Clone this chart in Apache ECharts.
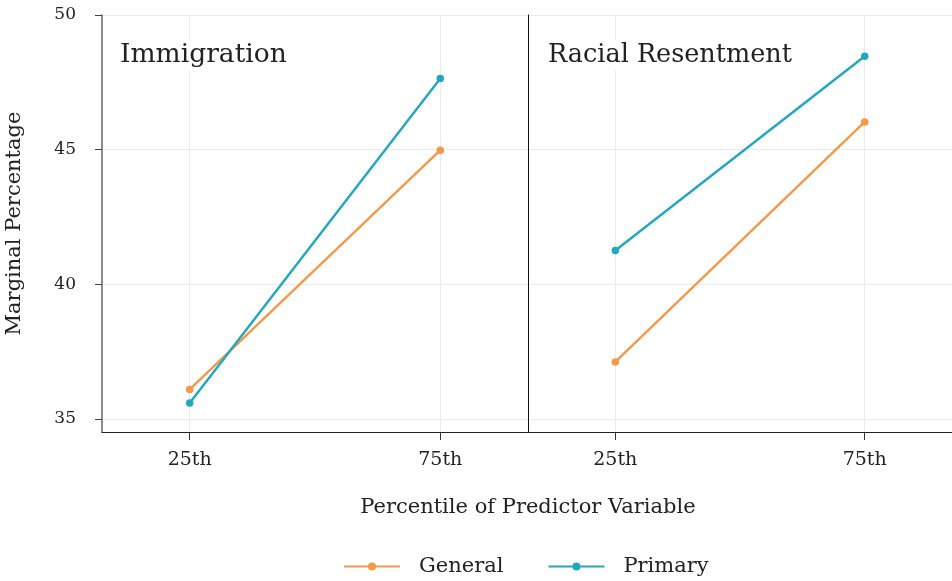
<!DOCTYPE html>
<html>
<head>
<meta charset="utf-8">
<script src="https://cdn.jsdelivr.net/npm/echarts@6/dist/echarts.min.js"></script>
<style>
html,body{margin:0;padding:0;background:#fff;}
#chart{width:952px;height:581px;}
</style>
</head>
<body>
<div id="chart"></div>
<script>
const categories = ['25th', '75th'];
const panels = ['Immigration', 'Racial Resentment'];
const seriesNames = ['General', 'Primary'];
const yTicks = [35, 40, 45, 50];
const immigrationGeneral = [36.1, 44.98];
const immigrationPrimary = [35.6, 47.64];
const racialGeneral = [37.12, 46.03];
const racialPrimary = [41.26, 48.47];

const FONT = 'DejaVu Serif';
const colors = { General: '#f3994a', Primary: '#22a8be' };
const catIdx = categories.map((c, i) => i);

function pts(vals) { return vals.map((v, i) => [catIdx[i], v]); }

function mkSeries(name, vals, k) {
  return {
    name: name, type: 'line', xAxisIndex: k, yAxisIndex: k,
    data: pts(vals), symbol: 'circle', symbolSize: 7.5,
    lineStyle: { width: 2.4, color: colors[name] },
    itemStyle: { color: colors[name] },
    emphasis: { disabled: true }, animation: false
  };
}

const xAxisBase = (k) => ({
  type: 'value', gridIndex: k, min: -0.35, max: 1.35,
  axisLine: { show: true, onZero: false, lineStyle: { color: '#222', width: 1 } },
  axisTick: { show: true, length: 8, customValues: catIdx, lineStyle: { color: '#333' } },
  axisLabel: { customValues: catIdx, formatter: (v) => categories[Math.round(v)], margin: 19,
    fontFamily: FONT, fontSize: 19, color: '#222' },
  splitLine: { show: true, lineStyle: { color: '#ebebeb', width: 1 } }
});

const option = {
  backgroundColor: '#fff',
  animation: false,
  textStyle: { fontFamily: FONT },
  grid: [
    { left: 102, top: 15, width: 426, bottom: 149 },
    { left: 528, top: 15, width: 426, bottom: 149 }
  ],
  xAxis: [xAxisBase(0), xAxisBase(1)],
  yAxis: [
    { type: 'value', gridIndex: 0, min: 34.52, max: 50,
      name: 'Marginal Percentage', nameLocation: 'middle', nameGap: 77,
      nameTextStyle: { fontFamily: FONT, fontSize: 21, color: '#222' },
      axisLine: { show: true, onZero: false, lineStyle: { color: '#666', width: 1.5 } },
      axisTick: { show: true, length: 7, customValues: yTicks, lineStyle: { color: '#444' } },
      axisLabel: { customValues: yTicks, margin: 26, fontFamily: FONT, fontSize: 17, color: '#222' },
      splitLine: { show: true, lineStyle: { color: '#ebebeb', width: 1 } } },
    { type: 'value', gridIndex: 1, min: 34.52, max: 50,
      axisLine: { show: true, onZero: false, lineStyle: { color: '#111', width: 1 } },
      axisTick: { show: false, customValues: yTicks },
      axisLabel: { show: false, customValues: yTicks },
      splitLine: { show: true, lineStyle: { color: '#ebebeb', width: 1 } } }
  ],
  title: [
    { text: panels[0], left: 115, top: 40, backgroundColor: '#fff', padding: [2, 5],
      textStyle: { fontFamily: FONT, fontSize: 26.5, fontWeight: 'normal', color: '#222' } },
    { text: panels[1], left: 543, top: 40, backgroundColor: '#fff', padding: [2, 5],
      textStyle: { fontFamily: FONT, fontSize: 25.5, fontWeight: 'normal', color: '#222' } }
  ],
  legend: {
    data: seriesNames, left: 338, top: 551, itemWidth: 56, itemHeight: 10, itemGap: 44,
    textStyle: { fontFamily: FONT, fontSize: 21, color: '#222', padding: [0, 0, 0, 14] }
  },
  graphic: [
    { type: 'text', x: 528, y: 497,
      style: { text: 'Percentile of Predictor Variable', align: 'center', fontFamily: FONT, fontSize: 21, fill: '#222' } }
  ],
  series: [
    mkSeries('General', immigrationGeneral, 0),
    mkSeries('Primary', immigrationPrimary, 0),
    mkSeries('General', racialGeneral, 1),
    mkSeries('Primary', racialPrimary, 1)
  ]
};

const chart = echarts.init(document.getElementById('chart'), null, { renderer: 'canvas' });
chart.setOption(option);
</script>
</body>
</html>
